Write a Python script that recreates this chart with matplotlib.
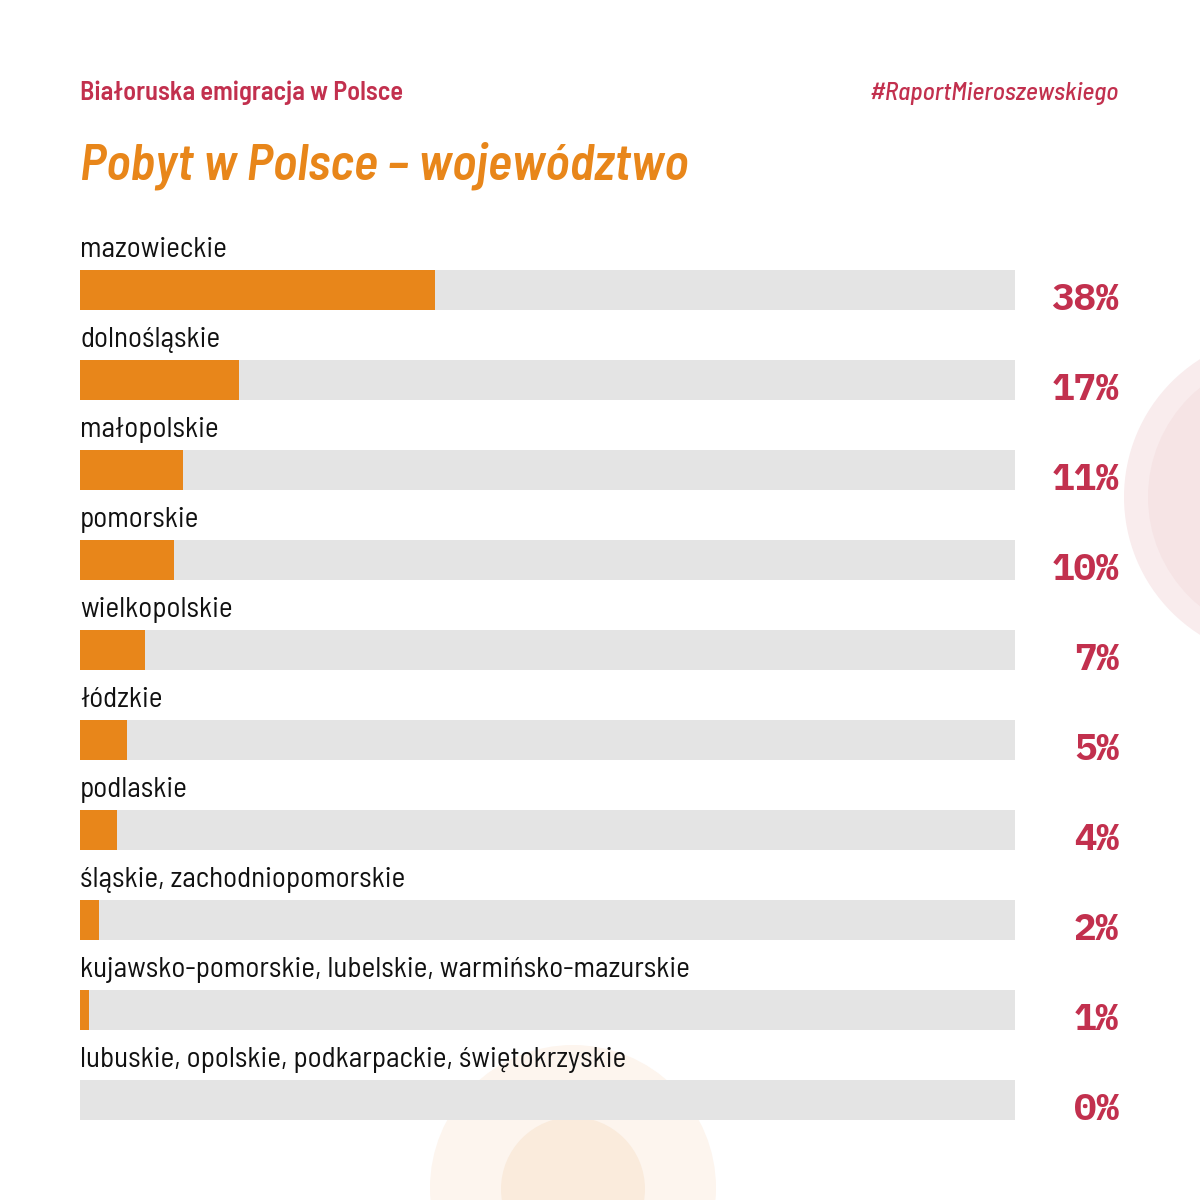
import matplotlib
matplotlib.use("Agg")
import matplotlib.pyplot as plt
from matplotlib.patches import Circle

categories = [
    "mazowieckie",
    "dolnośląskie",
    "małopolskie",
    "pomorskie",
    "wielkopolskie",
    "łódzkie",
    "podlaskie",
    "śląskie, zachodniopomorskie",
    "kujawsko-pomorskie, lubelskie, warmińsko-mazurskie",
    "lubuskie, opolskie, podkarpackie, świętokrzyskie",
]
values = [38, 17, 11, 10, 7, 5, 4, 2, 1, 0]
value_labels = ["38%", "17%", "11%", "10%", "7%", "5%", "4%", "2%", "1%", "0%"]

ORANGE = "#E8861A"
CRIMSON = "#C2304E"
GRAY = "#E4E4E4"
NARROW = ["Barlow Semi Condensed", "Encode Sans Condensed", "DejaVu Sans"]
MONO = ["IBM Plex Mono", "DejaVu Sans Mono"]

W = H = 1200
fig = plt.figure(figsize=(12, 12), dpi=100)
fig.patch.set_facecolor("white")

# background decoration
bg = fig.add_axes([0, 0, 1, 1], zorder=0)
bg.set_xlim(0, W)
bg.set_ylim(H, 0)
bg.axis("off")
bg.add_patch(Circle((1287, 497), 163, color="#F9ECED", lw=0))
bg.add_patch(Circle((1289, 497), 141, color="#F6E4E5", lw=0))
bg.add_patch(Circle((573, 1188), 143, color="#FDF5EE", lw=0))
bg.add_patch(Circle((573, 1189), 72, color="#FAEBDC", lw=0))

# header texts
fig.text(80 / W, 1 - 100 / H, "Białoruska emigracja w Polsce", color=CRIMSON,
         fontsize=19, fontweight=600, family=NARROW, va="baseline", ha="left")
fig.text(1119 / W, 1 - 100 / H, "#RaportMieroszewskiego", color=CRIMSON,
         fontsize=18.4, fontstyle="italic", fontweight=500, family=NARROW,
         va="baseline", ha="right")
fig.text(80 / W, 1 - 180 / H, "Pobyt w Polsce – województwo", color=ORANGE,
         fontsize=36.8, fontweight=600, fontstyle="italic", family=NARROW,
         va="baseline", ha="left")

# bar axes: x from 80px to 1015px
ax = fig.add_axes([80 / W, 0, 935 / W, 1], zorder=1)
ax.patch.set_alpha(0)
step = 90.0
first = 290.0
ax.set_xlim(0, 100)
ax.set_ylim((H - first) / step, -first / step)
ax.axis("off")

ypos = list(range(len(categories)))
bh = 40 / step
ax.barh(ypos, [100] * len(values), height=bh, color=GRAY, lw=0)
ax.barh(ypos, values, height=bh, color=ORANGE, lw=0)

for i, (cat, lab) in enumerate(zip(categories, value_labels)):
    ax.text(0, i - 33 / step, cat, fontsize=21, family=NARROW, color="#111111",
            va="baseline", ha="left", clip_on=False)
    ax.text((1119 - 80) / 935 * 100, i + 20 / step, lab, fontsize=27,
            fontweight="bold", family=MONO, color=CRIMSON,
            va="baseline", ha="right", clip_on=False)

fig.savefig("out.png", dpi=100, facecolor="white")
